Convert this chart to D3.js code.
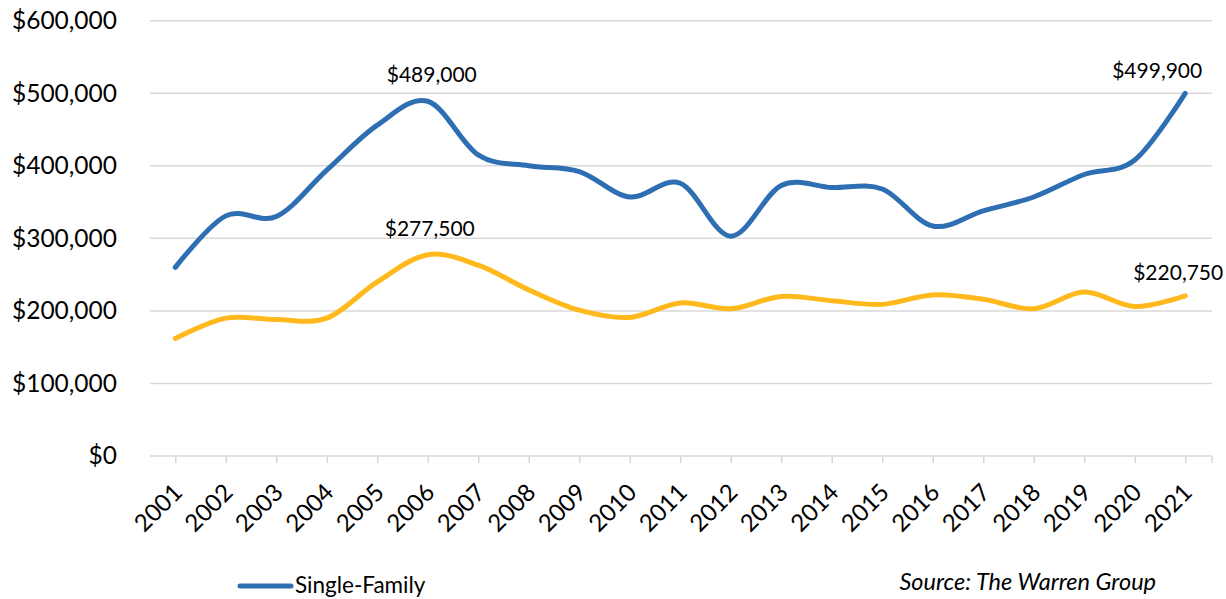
<!DOCTYPE html>
<html>
<head>
<meta charset="utf-8">
<script src="https://cdn.jsdelivr.net/npm/d3@7"></script>
<style>
  body { margin: 0; background: #fff; }
  text { font-family: Lato, "Open Sans", sans-serif; fill: #000; }
</style>
</head>
<body>
<div id="chart"></div>
<script>
// Median sale price data
const years = ["2001","2002","2003","2004","2005","2006","2007","2008","2009","2010","2011",
               "2012","2013","2014","2015","2016","2017","2018","2019","2020","2021"];
const singleFamily = [260000, 331000, 330000, 394000, 456000, 489000, 415000, 400000, 392000, 357000, 376000,
                      303000, 373000, 370000, 368000, 317000, 338000, 357000, 388000, 408000, 499900];
const condo = [162000, 190000, 188000, 190000, 240000, 277500, 263000, 229000, 201000, 191000, 211000,
               203000, 220000, 214000, 209000, 222000, 216000, 203000, 226000, 206000, 220750];
const yTicks = [0, 100000, 200000, 300000, 400000, 500000, 600000];

// callouts on selected points
const callouts = [
  {values: singleFamily, year: "2006", dx: 4, dy: -19},
  {values: condo, year: "2006", dx: 2, dy: -19},
  {values: singleFamily, year: "2021", dx: -28, dy: -15},
  {values: condo, year: "2021", dx: -7, dy: -16}
];

const width = 1226, height = 599;
const margins = {top: 20, right: 14, bottom: 143, left: 150};

const svg = d3.select("#chart").append("svg")
  .attr("width", width)
  .attr("height", height);

// Excel puts the first point half a step in from the axis start
const step = (width - margins.right - margins.left) / 21;
const x = d3.scalePoint()
  .domain(years)
  .range([margins.left + step / 2, width - margins.right - step / 2 - 1.5]);

const y = d3.scaleLinear()
  .domain([0, 600000])
  .range([height - margins.bottom, margins.top + 0.7]);

const fmt = d3.format("$,");

// gridlines
svg.append("g")
  .selectAll("line")
  .data(yTicks)
  .join("line")
  .attr("x1", margins.left)
  .attr("x2", width - margins.right)
  .attr("y1", d => y(d))
  .attr("y2", d => y(d))
  .attr("stroke", "#d9d9d9")
  .attr("stroke-width", 1.5);

// y axis labels
const yAxis = svg.append("g")
  .attr("transform", `translate(${margins.left},0)`)
  .call(d3.axisLeft(y).tickValues(yTicks).tickFormat(fmt).tickSize(0).tickPadding(33));
yAxis.select(".domain").remove();
yAxis.selectAll("text")
  .style("font-family", "Lato, sans-serif")
  .style("font-size", "24.5px")
  .attr("fill", "#000");

// x axis
const xAxis = svg.append("g")
  .attr("transform", `translate(0,${y(0)})`)
  .call(d3.axisBottom(x).tickSize(7));
xAxis.select(".domain").remove();
xAxis.selectAll(".tick line").attr("stroke", "#d9d9d9").attr("stroke-width", 1.5);
xAxis.append("line")
  .attr("x1", width - margins.right).attr("x2", width - margins.right)
  .attr("y1", 0).attr("y2", 7)
  .attr("stroke", "#d9d9d9").attr("stroke-width", 1.5);
xAxis.selectAll(".tick text")
  .style("font-family", "Lato, sans-serif")
  .style("font-size", "24px")
  .attr("fill", "#000")
  .attr("text-anchor", "end")
  .attr("x", 0)
  .attr("y", 0)
  .attr("dy", "0.35em")
  .attr("transform", "translate(2,32) rotate(-45)");

// lines
const line = d3.line()
  .x((d, i) => x(years[i]))
  .y(d => y(d))
  .curve(d3.curveCatmullRom.alpha(0));

svg.append("path")
  .datum(condo)
  .attr("fill", "none")
  .attr("stroke", "#ffb91d")
  .attr("stroke-width", 5)
  .attr("stroke-linecap", "round")
  .attr("d", line);

svg.append("path")
  .datum(singleFamily)
  .attr("fill", "none")
  .attr("stroke", "#2e6eb2")
  .attr("stroke-width", 5)
  .attr("stroke-linecap", "round")
  .attr("d", line);

// value labels
callouts.forEach(c => {
  const i = years.indexOf(c.year);
  svg.append("text")
    .attr("x", x(c.year) + c.dx)
    .attr("y", y(c.values[i]) + c.dy)
    .attr("text-anchor", "middle")
    .style("font-size", "21px")
    .text(fmt(c.values[i]));
});

// legend
const legend = svg.append("g").attr("transform", "translate(240,586)");
legend.append("line")
  .attr("x1", 0).attr("x2", 51)
  .attr("stroke", "#2e6eb2")
  .attr("stroke-width", 5)
  .attr("stroke-linecap", "round");
legend.append("text")
  .attr("x", 55)
  .attr("y", 7)
  .style("font-size", "22.5px")
  .text("Single-Family");

// source note
svg.append("text")
  .attr("x", 1156)
  .attr("y", 590)
  .attr("text-anchor", "end")
  .style("font-size", "23.5px")
  .style("font-style", "italic")
  .text("Source: The Warren Group");
</script>
</body>
</html>
